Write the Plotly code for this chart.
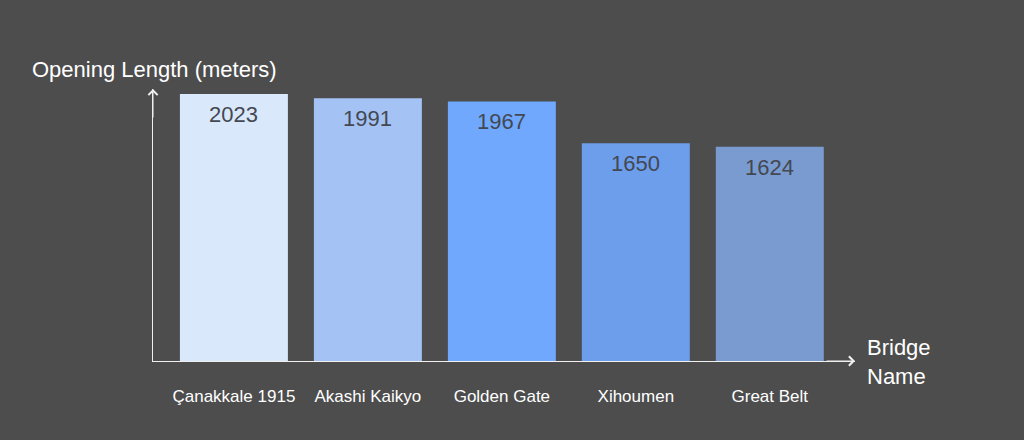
import plotly.graph_objects as go

# bridge main spans
bridges = ["Çanakkale 1915", "Akashi Kaikyo", "Golden Gate", "Xihoumen", "Great Belt"]
lengths = [2023, 1991, 1967, 1650, 1624]
colors = ["#dae8fc", "#a4c2f4", "#6fa8fc", "#6d9eeb", "#7a9bd0"]

bg = "#4d4d4d"
font = "Arial, Liberation Sans, sans-serif"

fig = go.Figure(go.Bar(
    x=bridges, y=lengths,
    marker=dict(color=colors, line=dict(width=0)),
    textposition="none",
    width=0.806,
    hoverinfo="skip",
))

# value labels just under the bar tops
for b, v in zip(bridges, lengths):
    fig.add_annotation(x=b, y=v, text=str(v), showarrow=False, yanchor="top",
                       yshift=-6, font=dict(size=22, color="#434852"))

fig.update_layout(
    width=1024, height=440,
    margin=dict(l=153, r=169, t=89, b=79),
    paper_bgcolor=bg, plot_bgcolor=bg,
    showlegend=False,
    font=dict(family=font, color="white"),
)
fig.update_xaxes(
    range=[-0.604, 4.636], showline=True, linecolor="#f0f0f0", linewidth=1,
    showgrid=False, zeroline=False, ticks="", ticklabelstandoff=20,
    tickfont=dict(size=17, color="white"),
)
fig.update_yaxes(
    range=[0, 2061], showline=True, linecolor="#f0f0f0", linewidth=1,
    showgrid=False, zeroline=False, showticklabels=False, ticks="",
)

# arrow heads at the axis ends
fig.add_annotation(xref="paper", yref="paper", x=1.0, y=0, ax=-30, ay=0,
                   axref="pixel", ayref="pixel", text="", showarrow=True,
                   arrowhead=4, arrowsize=1.8, arrowwidth=1, arrowcolor="#f0f0f0")
fig.add_annotation(xref="paper", yref="paper", x=0, y=1.0, ax=0, ay=30,
                   axref="pixel", ayref="pixel", text="", showarrow=True,
                   arrowhead=4, arrowsize=1.8, arrowwidth=1, arrowcolor="#f0f0f0")

fig.add_annotation(xref="paper", yref="paper", x=(30 - 153) / 702, y=1.0735,
                   xanchor="left", yanchor="middle", showarrow=False,
                   text="Opening Length (meters)", font=dict(size=22, color="white"))
fig.add_annotation(xref="paper", yref="paper", x=1.014, y=-0.005,
                   xanchor="left", yanchor="middle", align="left", showarrow=False,
                   text="Bridge<br>Name", font=dict(size=22, color="white"))

fig.write_html("out.html", config={"displayModeBar": False},
               post_script="document.body.style.margin='0';")
